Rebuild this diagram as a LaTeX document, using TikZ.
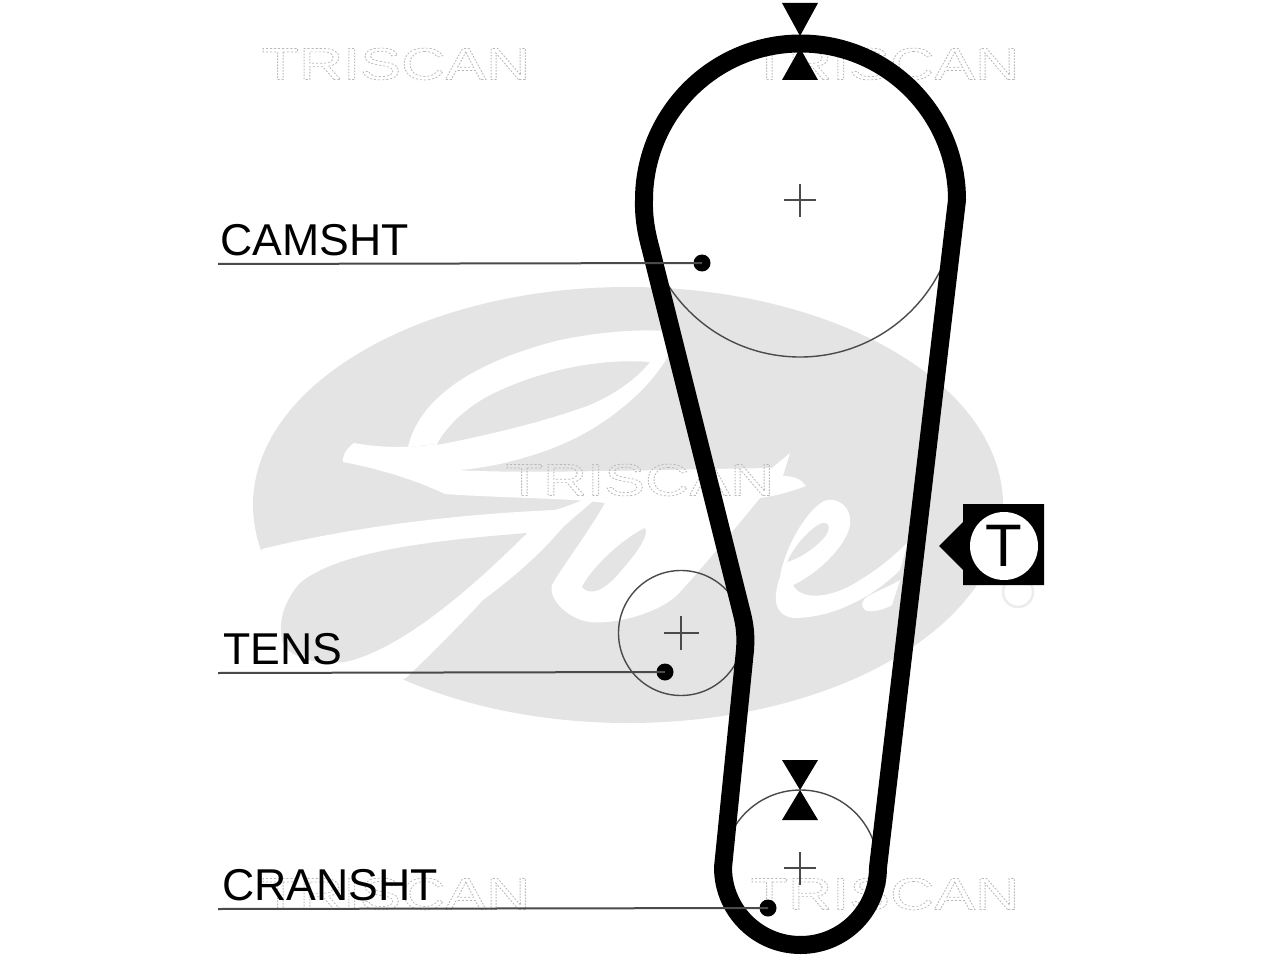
\documentclass[tikz,border=0pt]{standalone}
\usepackage{fontspec}
\usepackage{graphicx}
\setmainfont{Liberation Sans}
\definecolor{logogray}{HTML}{E4E4E4}
\definecolor{thinline}{HTML}{4A4A4A}
\newcommand{\wmtext}{\special{pdf:code q 1 Tr 0.7 w 0.72 G [1.6 1.4] 0 d}\scalebox{1.36}[1]{\fontsize{45}{45}\selectfont TRISCAN}\special{pdf:code Q}}
\tikzset{
  belt/.style={line width=18pt,black,line join=round},
  thin circle/.style={draw=thinline,line width=1.4pt},
  leader/.style={draw=thinline,line width=2pt},
  crossmark/.style={draw=thinline,line width=1.5pt},
  dotmark/.style={circle,fill=black,minimum size=17pt,inner sep=0pt},
  tag/.style={font=\fontsize{44.6}{44.6}\selectfont,inner sep=0pt,anchor=base west,text=black},
  wm/.style={inner sep=0pt,anchor=center},
  swoosh/.style={fill=white,draw=none},
  hourglass/.style={fill=black,draw=none}
}
\begin{document}
\begin{tikzpicture}[x=1pt,y=-1pt]
\useasboundingbox (0,0) rectangle (1280,960);
% logo
\fill[logogray] (628,505) ellipse [x radius=375,y radius=218];
% G upper loop
\fill[swoosh] (408,447) .. controls (420,395) and (480,360) .. (560,340)
  .. controls (600,332) and (640,328) .. (680,332)
  .. controls (672,352) and (660,372) .. (640,392)
  .. controls (600,430) and (560,450) .. (500,464)
  .. controls (480,468) and (465,470) .. (456,470)
  -- (437,445)
  .. controls (490,435) and (550,420) .. (590,405)
  .. controls (620,392) and (640,375) .. (650,362)
  .. controls (600,358) and (540,370) .. (490,395)
  .. controls (465,408) and (445,428) .. (437,444) -- cycle;
% G bar
\fill[swoosh] (354,443) .. controls (380,448) and (410,448) .. (437,444)
  -- (457,470)
  .. controls (520,474) and (640,470) .. (772,468)
  -- (790,453) -- (783,476)
  .. controls (795,476) and (802,480) .. (806,486)
  .. controls (790,492) and (775,496) .. (760,498)
  .. controls (730,535) and (700,570) .. (680,592)
  .. controls (665,610) and (620,625) .. (590,622)
  .. controls (570,620) and (548,600) .. (552,585)
  .. controls (560,570) and (590,530) .. (605,503)
  .. controls (570,498) and (500,498) .. (445,494)
  .. controls (420,482) and (385,470) .. (343,462)
  .. controls (342,455) and (348,447) .. (354,443) -- cycle;
% gray counter of the a
\fill[logogray] (645,528) .. controls (620,540) and (590,570) .. (582,587)
  .. controls (590,597) and (605,590) .. (620,572)
  .. controls (635,555) and (650,535) .. (645,528) -- cycle;
% lower swoosh of the G
\fill[swoosh] (262,549) .. controls (340,530) and (440,515) .. (555,510)
  .. controls (570,506) and (585,498) .. (600,495)
  -- (563,527)
  .. controls (540,555) and (510,580) .. (483,600)
  .. controls (460,625) and (435,650) .. (407,677)
  -- (380,695) -- (270,695) -- (245,600) -- cycle;
\fill[logogray] (527,533) .. controls (440,540) and (340,550) .. (300,583)
  .. controls (285,600) and (278,620) .. (282,640)
  .. controls (285,655) and (310,665) .. (345,662)
  .. controls (400,650) and (470,590) .. (527,533) -- cycle;
% e
\fill[swoosh] (780,577) .. controls (785,545) and (810,505) .. (827,500)
  .. controls (845,498) and (855,515) .. (848,532)
  .. controls (840,552) and (815,575) .. (793,585)
  .. controls (800,600) and (830,600) .. (860,580)
  .. controls (880,568) and (895,555) .. (908,542)
  -- (900,570)
  .. controls (880,590) and (840,618) .. (793,618)
  .. controls (775,615) and (772,600) .. (780,577) -- cycle;
\fill[logogray] (787,562) .. controls (795,545) and (810,528) .. (822,523)
  .. controls (832,522) and (830,532) .. (822,540)
  .. controls (812,550) and (800,558) .. (787,562) -- cycle;
% full stop
\fill[swoosh] (868,596) .. controls (880,590) and (892,585) .. (900,580)
  -- (892,605)
  .. controls (880,612) and (868,612) .. (865,610)
  .. controls (860,606) and (862,600) .. (868,596) -- cycle;
% registered mark
\draw[logogray!70,line width=2.5pt] (1018,592) circle[radius=15];
% watermarks
\node[wm] (wma) at (396,64) {\wmtext};
\node[wm] (wmb) at (885,64) {\wmtext};
\node[wm] (wmc) at (640,480) {\wmtext};
\node[wm] (wmd) at (396,894) {\wmtext};
\node[wm] (wme) at (885,894) {\wmtext};
% pulleys
\draw[thin circle] (800,200) circle[radius=157];
\draw[thin circle] (681,633) circle[radius=62.5];
\draw[thin circle] (800.5,867.5) circle[radius=77.5];
% belt
\draw[belt] (957,200) arc[start angle=0,end angle=-180,radius=156.5]
  .. controls (643.5,220) and (647,235) .. (651,250)
  -- (741,610)
  .. controls (745,625) and (746,635) .. (745,650)
  -- (723,867.5)
  arc[start angle=180,end angle=0,radius=77.5]
  -- cycle;
% crosses
\draw[crossmark] (784,200) -- (816,200) (800,184) -- (800,217);
\draw[crossmark] (664,633) -- (699,633) (681,616) -- (681,650);
\draw[crossmark] (784,868) -- (816,868) (800,852) -- (800,885);
% hourglasses
\fill[hourglass] (782,3) -- (818,3) -- (800,36) -- cycle;
\fill[hourglass] (782,80) -- (818,80) -- (800,48) -- cycle;
\fill[hourglass] (782,760) -- (818,760) -- (800,790) -- cycle;
\fill[hourglass] (782,820) -- (818,820) -- (800,790) -- cycle;
% labels
\node[tag] (camtxt) at (220,255) {CAMSHT};
\node[tag] (tenstxt) at (223,664) {TENS};
\node[tag] (crantxt) at (222,900) {CRANSHT};
\coordinate (la) at (218,264);
\coordinate (lb) at (218,673);
\coordinate (lc) at (218,909);
\node[dotmark] (da) at (702,263) {};
\node[dotmark] (db) at (665,672) {};
\node[dotmark] (dc) at (768,908) {};
\draw[leader] (la) -- (da.center);
\draw[leader] (lb) -- (db.center);
\draw[leader] (lc) -- (dc.center);
% T badge
\fill[black] (963,504) -- (1044,504) -- (1044,585) -- (963,585) -- (963,570) -- (939,546) -- (963,522) -- cycle;
\node[circle,fill=white,minimum size=68pt,inner sep=0pt] (tbadge) at (1004,546) {};
\node[inner sep=0pt,font=\fontsize{60}{60}\selectfont] at (tbadge) {T};
\end{tikzpicture}
\end{document}
